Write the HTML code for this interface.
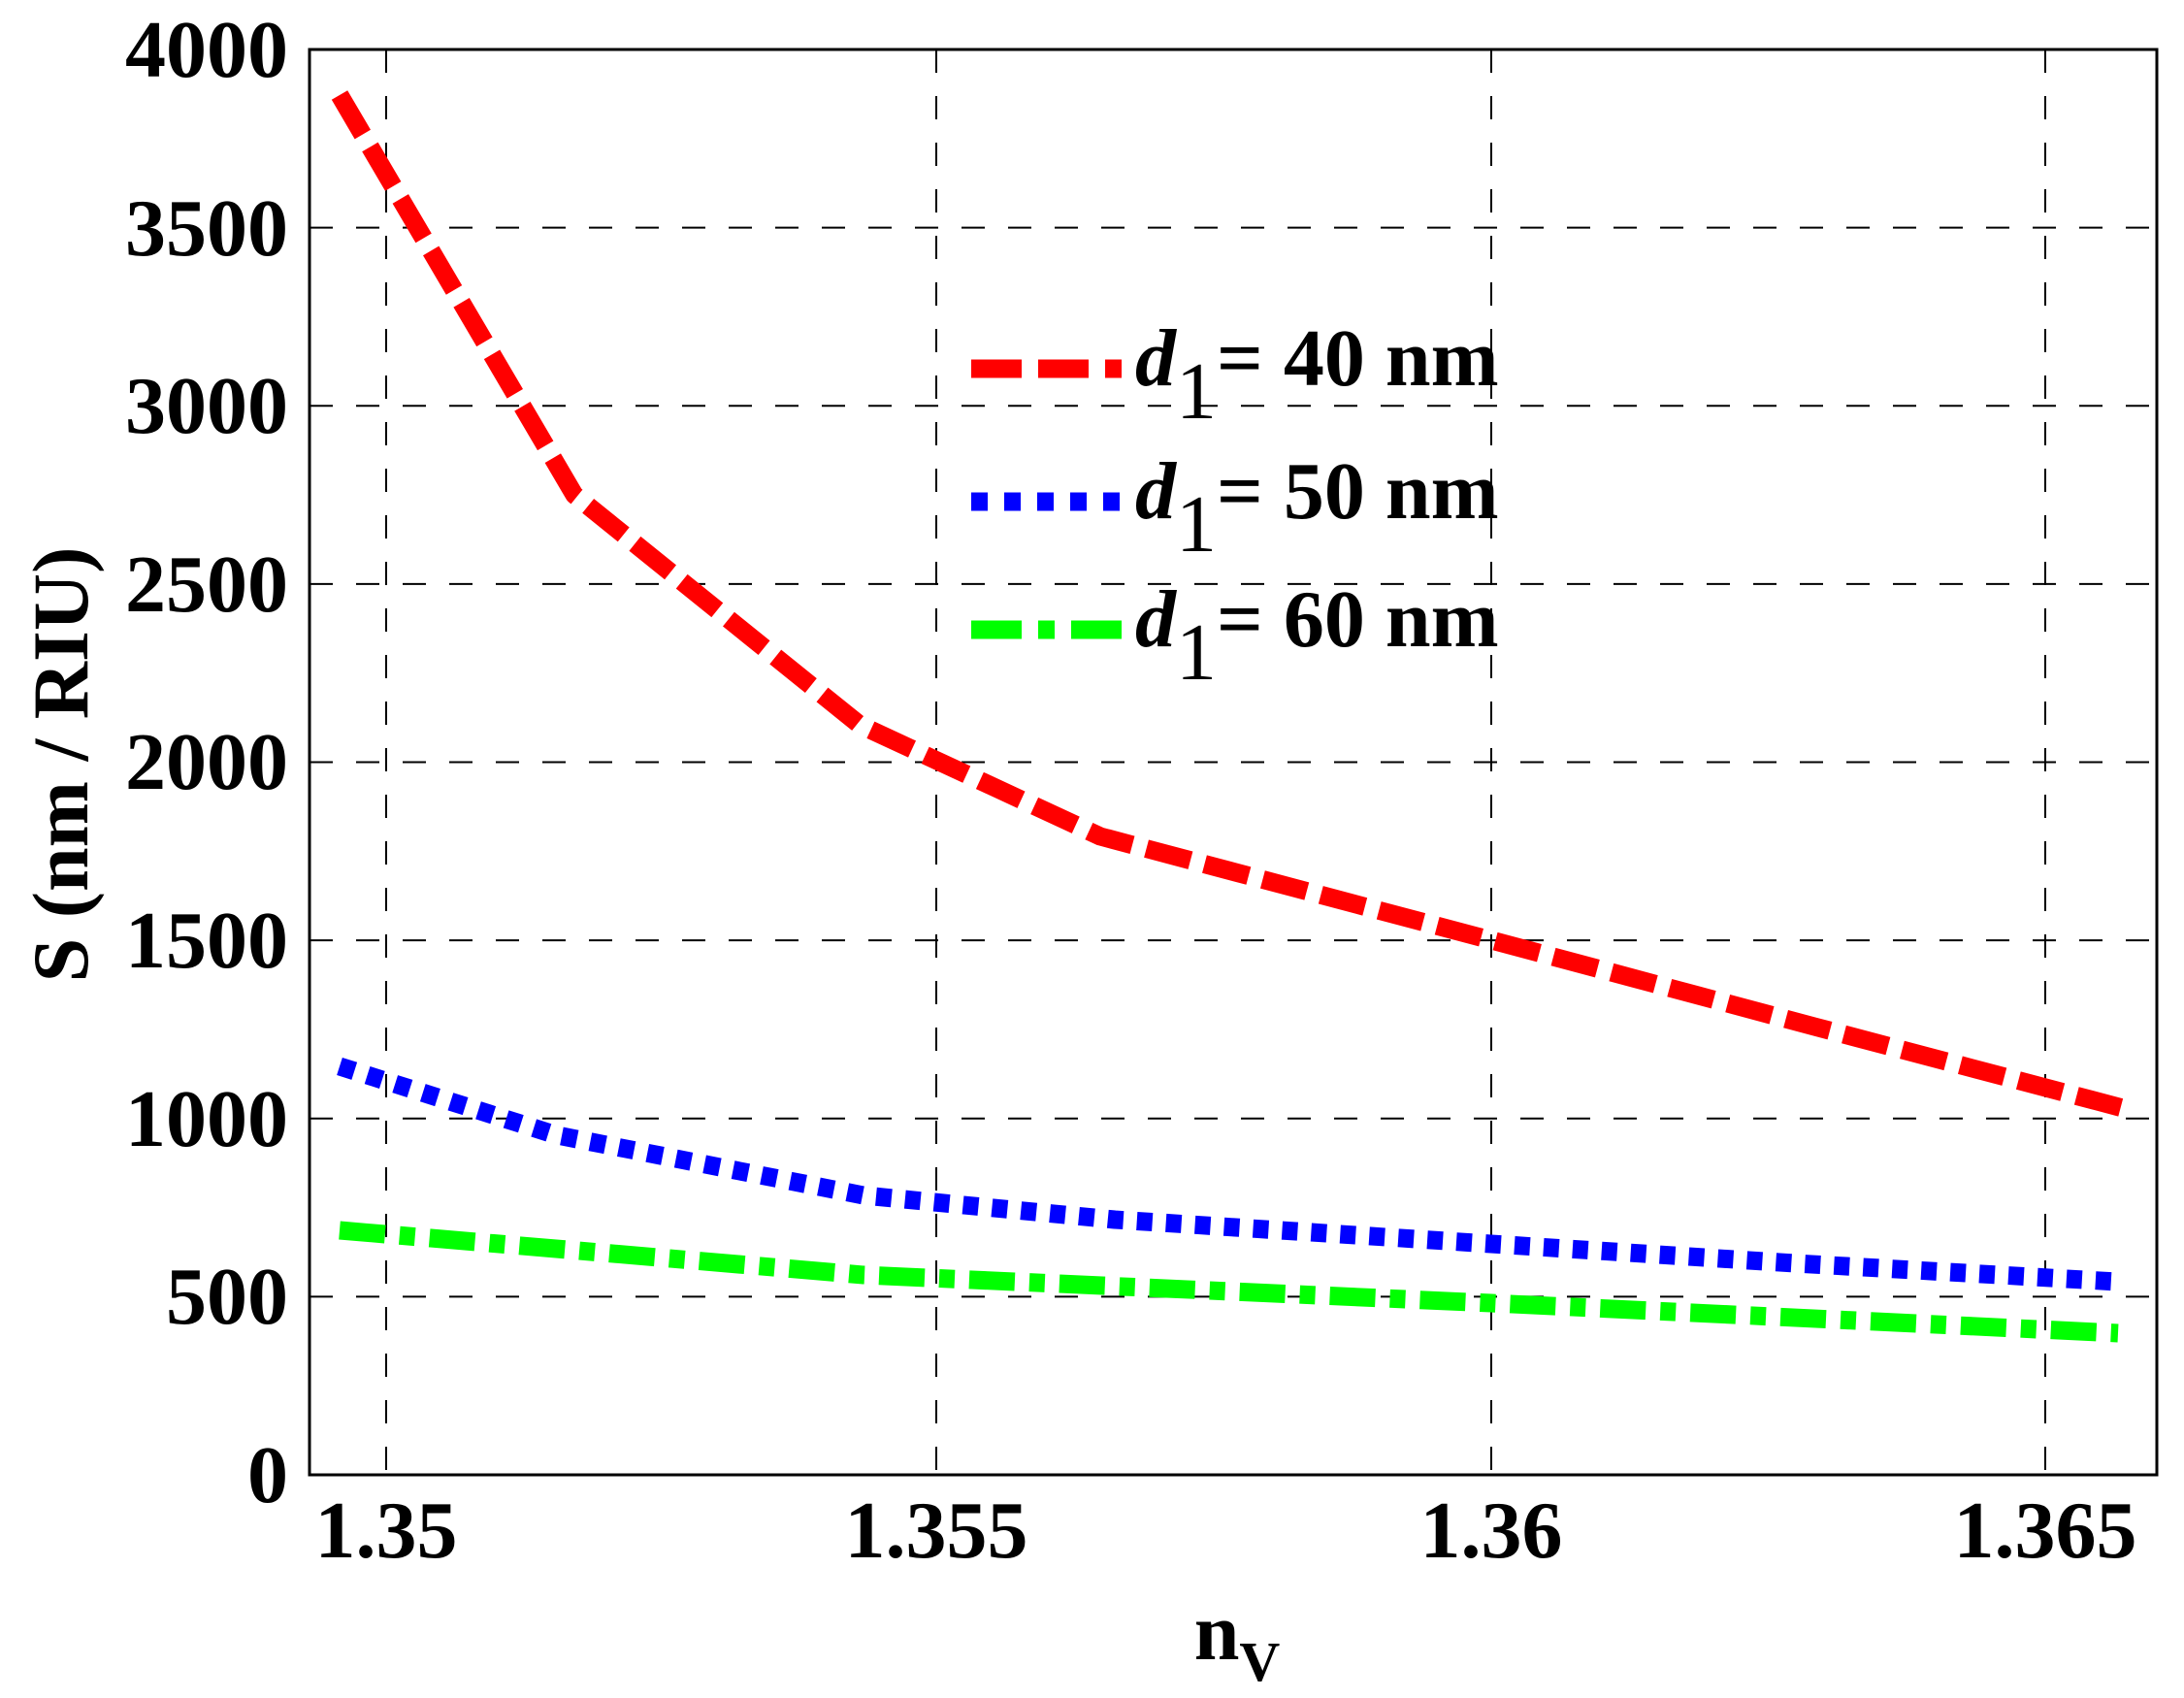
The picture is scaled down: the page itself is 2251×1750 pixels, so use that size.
<!DOCTYPE html>
<html><head><meta charset="utf-8"><style>html,body{margin:0;padding:0;background:#fff}svg{display:block}</style></head>
<body>
<svg width="2251" height="1750" viewBox="0 0 2251 1750" xmlns="http://www.w3.org/2000/svg" font-family="'Liberation Serif', serif" font-weight="bold">
<rect width="2251" height="1750" fill="#fff"/>
<g stroke="#000" stroke-width="2" stroke-dasharray="24 24" fill="none">
<line x1="398" y1="51" x2="398" y2="1520"/>
<line x1="965" y1="51" x2="965" y2="1520"/>
<line x1="1537" y1="51" x2="1537" y2="1520"/>
<line x1="2108" y1="51" x2="2108" y2="1520"/>
<line x1="319" y1="1336.4" x2="2223" y2="1336.4"/>
<line x1="319" y1="1152.8" x2="2223" y2="1152.8"/>
<line x1="319" y1="969.1" x2="2223" y2="969.1"/>
<line x1="319" y1="785.5" x2="2223" y2="785.5"/>
<line x1="319" y1="601.9" x2="2223" y2="601.9"/>
<line x1="319" y1="418.3" x2="2223" y2="418.3"/>
<line x1="319" y1="234.6" x2="2223" y2="234.6"/>
</g>
<rect x="319" y="51" width="1904" height="1469" fill="none" stroke="#000" stroke-width="3"/>
<g font-size="84" text-anchor="end">
<text x="297" y="1548">0</text>
<text x="297" y="1364">500</text>
<text x="297" y="1181">1000</text>
<text x="297" y="997">1500</text>
<text x="297" y="813">2000</text>
<text x="297" y="630">2500</text>
<text x="297" y="446">3000</text>
<text x="297" y="263">3500</text>
<text x="297" y="79">4000</text>
</g>
<g font-size="84" text-anchor="middle">
<text x="398" y="1605">1.35</text>
<text x="965" y="1605">1.355</text>
<text x="1537" y="1605">1.36</text>
<text x="2108" y="1605">1.365</text>
<text x="1275" y="1710">n<tspan font-size="58" dy="22">V</tspan></text>
</g>
<text transform="translate(90,788) rotate(-90)" font-size="82" text-anchor="middle">S (nm / RIU)</text>
<g fill="none" stroke-linejoin="round">
<polyline stroke="#f00" stroke-width="19" stroke-dasharray="47 15" points="350,98 592,510 886,747 1134,862 1537,969 1870,1058 2188,1142"/>
<polyline stroke="#00f" stroke-width="19" stroke-dasharray="16 14" points="350,1099 574,1170 890,1232 1149,1257 1537,1282 1850,1302 2183,1321"/>
<polyline stroke="#0f0" stroke-width="19" stroke-dasharray="47 15 16 15" points="350,1268 890,1314 1537,1343 2183,1374"/>
</g>
<g fill="none" stroke-width="19">
<line x1="1001" y1="380" x2="1156" y2="380" stroke="#f00" stroke-dasharray="52 17 52 17 17 100"/>
<line x1="1001" y1="517" x2="1156" y2="517" stroke="#00f" stroke-dasharray="17 17"/>
<line x1="1001" y1="649" x2="1156" y2="649" stroke="#0f0" stroke-dasharray="52 17 17 17 52 100"/>
</g>
<g font-size="84">
<text x="1170" y="397"><tspan font-style="italic">d</tspan><tspan font-weight="normal" dy="34">1</tspan><tspan dy="-34">= 40 nm</tspan></text>
<text x="1170" y="534"><tspan font-style="italic">d</tspan><tspan font-weight="normal" dy="34">1</tspan><tspan dy="-34">= 50 nm</tspan></text>
<text x="1170" y="666"><tspan font-style="italic">d</tspan><tspan font-weight="normal" dy="34">1</tspan><tspan dy="-34">= 60 nm</tspan></text>
</g>
</svg>
</body></html>
